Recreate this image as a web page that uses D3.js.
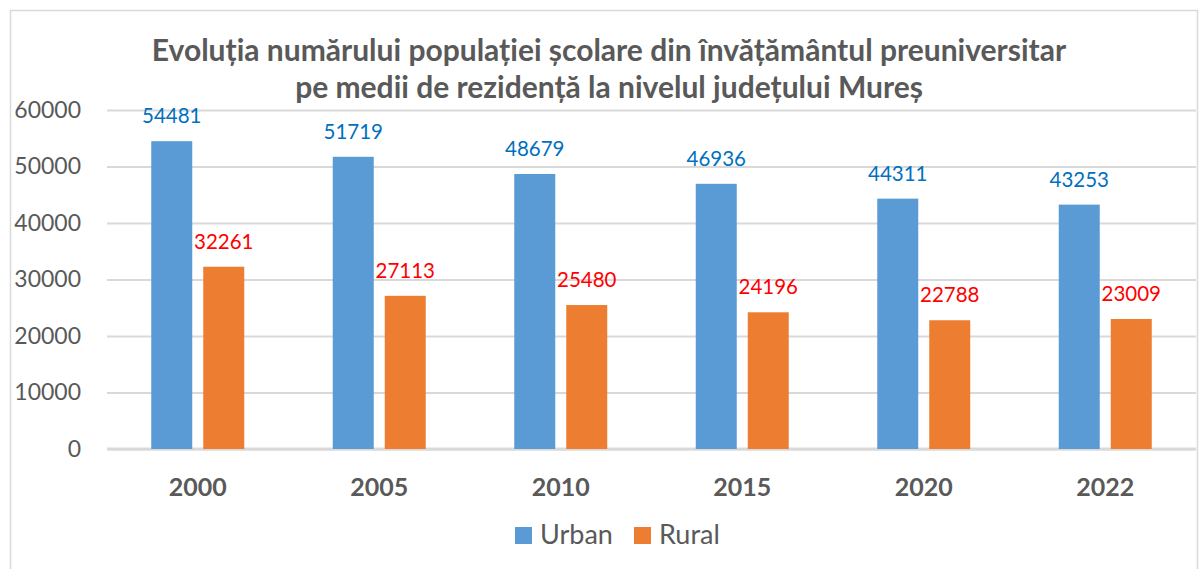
<!DOCTYPE html>
<html><head><meta charset="utf-8">
<script src="https://cdn.jsdelivr.net/npm/d3@7"></script>
<style>body{margin:0;background:#fff}svg text{font-family:Lato,"Open Sans",sans-serif}</style>
</head><body><svg id="c" width="1200" height="569"></svg>
<script>
const categories = ["2000","2005","2010","2015","2020","2022"];
const urban = [54481,51719,48679,46936,44311,43253];
const rural = [32261,27113,25480,24196,22788,23009];
const seriesNames = ["Urban","Rural"];
const yTicks = [0,10000,20000,30000,40000,50000,60000];
const titleLines = ["Evoluția numărului populației școlare din învățământul preuniversitar","pe medii de rezidență la nivelul județului Mureș"];

const colors = ["#5B9BD5","#ED7D31"];
const labelColors = ["#0070C0","#FF0000"];
const svg = d3.select("#c");
svg.append("rect").attr("x",10.5).attr("y",10.5).attr("width",1187).attr("height",570).attr("fill","#fff").attr("stroke","#d9d9d9").attr("stroke-width",1.5);

const x0 = d3.scaleBand().domain(categories).range([107,1196]);
const y = d3.scaleLinear().domain([0,60000]).range([449,110]);

const ya = svg.append("g").attr("transform","translate(107,0)").call(d3.axisLeft(y).tickValues(yTicks).tickSize(-1089).tickFormat(d3.format("d")));
ya.select(".domain").remove();
ya.selectAll(".tick line").attr("stroke","#d9d9d9").attr("stroke-width",2);
ya.selectAll(".tick text").attr("x",-26).attr("fill","#595959").style("font-size","23px").style("font-family","Lato");

svg.append("line").attr("x1",107).attr("x2",1196).attr("y1",y(0)).attr("y2",y(0)).attr("stroke","#d9d9d9").attr("stroke-width",3);

const barW = 41, gap = 11;
const data = categories.map((c,i)=>({c, v:[urban[i],rural[i]]}));
const g = svg.append("g");
data.forEach(d=>{
  const cx = x0(d.c)+x0.bandwidth()/2;
  d.v.forEach((v,k)=>{
    const bx = k===0 ? cx - gap/2 - barW : cx + gap/2;
    g.append("rect").attr("x",bx).attr("y",y(v)).attr("width",barW).attr("height",y(0)-y(v)).attr("fill",colors[k]);
    g.append("text").attr("x",bx+barW/2).attr("y",y(v)-18).attr("text-anchor","middle").attr("fill",labelColors[k]).style("font-size","20.5px").text(v);
  });
});

const xa = svg.append("g").attr("transform","translate(0,449)").call(d3.axisBottom(x0).tickSize(0));
xa.select(".domain").remove();
xa.selectAll(".tick text").attr("y",0).attr("dy","47px").attr("fill","#595959").style("font-size","25px").style("font-weight","bold").style("font-family","Lato");

svg.append("g").selectAll("text").data(titleLines).join("text")
  .attr("x",609).attr("y",(d,i)=>61+i*37).attr("text-anchor","middle").attr("fill","#595959")
  .style("font-size","30px").style("font-weight","bold").text(d=>d);

const leg = svg.append("g");
const legX = [515,634];
seriesNames.forEach((n,k)=>{
  leg.append("rect").attr("x",legX[k]).attr("y",527).attr("width",17).attr("height",17).attr("fill",colors[k]);
  leg.append("text").attr("x",legX[k]+25).attr("y",544).attr("fill","#595959").style("font-size","27px").text(n);
});
</script></body></html>
